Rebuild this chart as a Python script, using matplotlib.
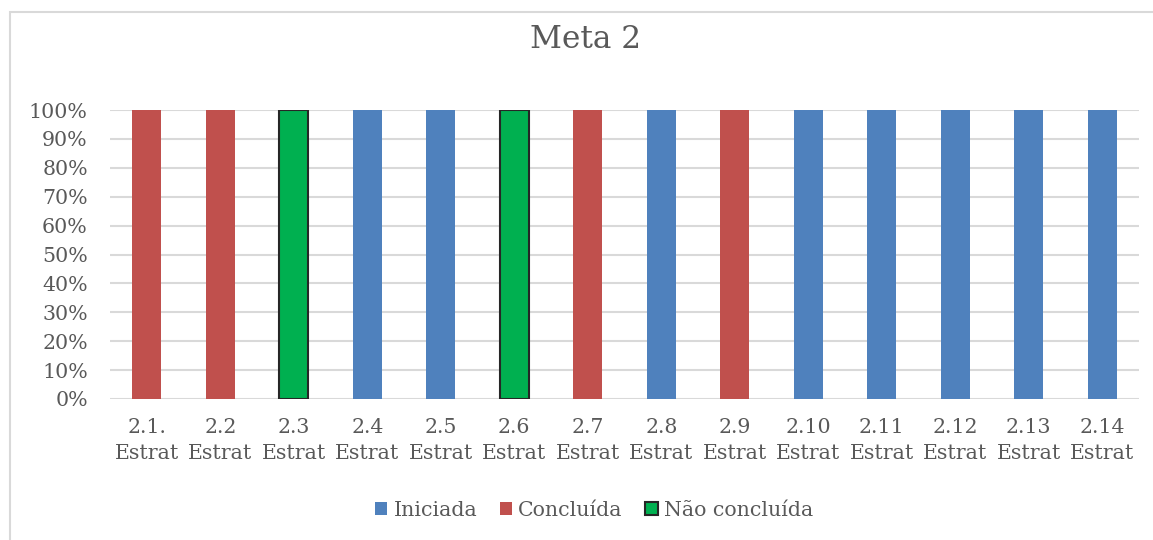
import matplotlib.pyplot as plt
from matplotlib.patches import Rectangle
from matplotlib.ticker import PercentFormatter
import numpy as np

categories = ["2.1.\nEstrat", "2.2\nEstrat", "2.3\nEstrat", "2.4\nEstrat", "2.5\nEstrat",
              "2.6\nEstrat", "2.7\nEstrat", "2.8\nEstrat", "2.9\nEstrat", "2.10\nEstrat",
              "2.11\nEstrat", "2.12\nEstrat", "2.13\nEstrat", "2.14\nEstrat"]
iniciada = [0, 0, 0, 1, 1, 0, 0, 1, 0, 1, 1, 1, 1, 1]
concluida = [1, 1, 0, 0, 0, 0, 1, 0, 1, 0, 0, 0, 0, 0]
nao_concluida = [0, 0, 1, 0, 0, 1, 0, 0, 0, 0, 0, 0, 0, 0]
series_names = ["Iniciada", "Concluída", "Não concluída"]

plt.rcParams['font.family'] = ['DejaVu Serif']
W, H = 1153, 540
fig = plt.figure(figsize=(W / 100, H / 100), dpi=100)

# outer chart frame
fig.patches.append(Rectangle((10 / W, -0.1), 1.2, 1 - 12 / H + 0.1,
                             transform=fig.transFigure, fill=False,
                             edgecolor='#d9d9d9', linewidth=1.5))

ax = fig.add_axes([110 / W, 1 - 399 / H, (1139 - 110) / W, (399 - 110) / H])
x = np.arange(len(categories))
width = 0.4
text_color = '#595959'

blue, red, green = '#4f81bd', '#c0504d', '#00b050'
edge_dark = '#262626'
b1 = np.array(iniciada, dtype=float)
b2 = np.array(concluida, dtype=float)
b3 = np.array(nao_concluida, dtype=float)

h1 = ax.bar(x, b1, width, color=blue, zorder=3)
h2 = ax.bar(x, b2, width, bottom=b1, color=red, zorder=3)
edge_w = [1.5 if v > 0 else 0 for v in b3]
ax.bar(x, b3, width, bottom=b1 + b2, color=green, edgecolor=edge_dark,
       linewidth=edge_w, zorder=3)

ax.set_xlim(-0.5, len(categories) - 0.5)
ax.set_ylim(0, 1)
ax.set_yticks(np.arange(0, 1.01, 0.1))
ax.yaxis.set_major_formatter(PercentFormatter(1.0, decimals=0))
ax.grid(axis='y', color='#d9d9d9', linewidth=1.5, zorder=0)
ax.set_axisbelow(True)
for s in ax.spines.values():
    s.set_visible(False)

ax.set_xticks(x)
ax.set_xticklabels(categories, linespacing=1.45)
ax.tick_params(axis='both', length=0, colors=text_color, labelsize=14.8)
ax.tick_params(axis='y', pad=16)
ax.tick_params(axis='x', pad=14)

fig.text(586 / W, 1 - 40 / H, "Meta 2", ha='center', va='center',
         fontsize=22.5, color=text_color)

legend_handles = [Rectangle((0, 0), 1, 1, facecolor=blue, edgecolor='none'),
                  Rectangle((0, 0), 1, 1, facecolor=red, edgecolor='none'),
                  Rectangle((0, 0), 1, 1, facecolor=green, edgecolor=edge_dark,
                            linewidth=1.5)]
leg = fig.legend(legend_handles, series_names, loc='center',
                 bbox_to_anchor=(594 / W, 1 - 510 / H), ncol=3,
                 frameon=False, fontsize=14.8, handlelength=0.6, handleheight=0.6,
                 handletextpad=0.3, columnspacing=1.1, borderaxespad=0)
for t in leg.get_texts():
    t.set_color(text_color)

fig.savefig("out.png", dpi=100)
